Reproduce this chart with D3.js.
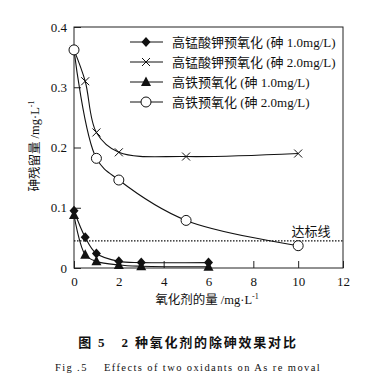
<!DOCTYPE html>
<html><head><meta charset="utf-8">
<script src="https://cdn.jsdelivr.net/npm/d3@7"></script>
<style>
body{margin:0;background:#fff;}
text{font-family:"Liberation Serif","Noto Sans CJK SC",serif;fill:#111;white-space:pre;}
</style></head>
<body><svg id="c" width="366" height="384"></svg>
<script>
const seriesNames = ["高锰酸钾预氧化 (砷 1.0mg/L)","高锰酸钾预氧化 (砷 2.0mg/L)","高铁预氧化 (砷 1.0mg/L)","高铁预氧化 (砷 2.0mg/L)"];
const kmn1X = [0,0.5,1,2,3,6];
const kmn1Y = [0.095,0.051,0.024,0.011,0.009,0.009];
const kmn2X = [0,0.5,1,2,5,10];
const kmn2Y = [0.362,0.31,0.225,0.192,0.185,0.19];
const fe1X = [0,0.5,1,2,3,6];
const fe1Y = [0.088,0.022,0.011,0.005,0.003,0.002];
const fe2X = [0,1,2,5,10];
const fe2Y = [0.362,0.182,0.146,0.079,0.037];
const standard = 0.045;
const xTicks = [0,2,4,6,8,10,12];
const yTicks = [0,0.1,0.2,0.3,0.4];

const svg = d3.select("#c");
const L=74,R=343,T=27,B=268;
const x = d3.scaleLinear().domain([0,12]).range([L,R]);
const y = d3.scaleLinear().domain([0,0.4]).range([B,T]);

// frame
svg.append("rect").attr("x",L).attr("y",T).attr("width",R-L).attr("height",B-T)
  .attr("fill","none").attr("stroke","#222").attr("stroke-width",1);

const ax = svg.append("g").attr("transform",`translate(0,${B})`)
  .call(d3.axisBottom(x).tickValues(xTicks).tickFormat(d3.format("d")).tickSize(-7).tickPadding(9));
const ay = svg.append("g").attr("transform",`translate(${L},0)`)
  .call(d3.axisLeft(y).tickValues(yTicks).tickFormat(d=>d===0?"0":d3.format(".1f")(d)).tickSize(-7).tickPadding(7));
[ax,ay].forEach(g=>{g.select(".domain").remove();
  g.selectAll("line").attr("stroke","#222");
  g.selectAll("text").attr("font-size",13).attr("font-family","Liberation Serif").attr("fill","#111");});

// standard line
svg.append("line").attr("x1",L).attr("x2",R).attr("y1",y(standard)).attr("y2",y(standard))
  .attr("stroke","#111").attr("stroke-width",1.2).attr("stroke-dasharray","1.5,1.5");
svg.append("text").attr("x",311).attr("y",y(standard)-5).attr("text-anchor","middle")
  .attr("font-size",13).text("达标线");

const line = d3.line().x(d=>x(d[0])).y(d=>y(d[1])).curve(d3.curveCatmullRom.alpha(0.5));
const data = [
  {xs:kmn1X, ys:kmn1Y, m:"diamond"},
  {xs:kmn2X, ys:kmn2Y, m:"cross"},
  {xs:fe1X, ys:fe1Y, m:"triangle"},
  {xs:fe2X, ys:fe2Y, m:"circle"}
];
function marker(g,type,cx,cy){
  if(type==="diamond") g.append("path").attr("d",`M${cx},${cy-5}L${cx+4.5},${cy}L${cx},${cy+5}L${cx-4.5},${cy}Z`).attr("fill","#111");
  else if(type==="cross") g.append("path").attr("d",`M${cx-4},${cy-4}L${cx+4},${cy+4}M${cx-4},${cy+4}L${cx+4},${cy-4}`).attr("stroke","#111").attr("stroke-width",1).attr("fill","none");
  else if(type==="triangle") g.append("path").attr("d",`M${cx},${cy-5.5}L${cx+5},${cy+4}L${cx-5},${cy+4}Z`).attr("fill","#111");
  else g.append("circle").attr("cx",cx).attr("cy",cy).attr("r",5).attr("fill","#fff").attr("stroke","#111").attr("stroke-width",1);
}
data.forEach(s=>{
  const pts = s.xs.map((v,i)=>[v,s.ys[i]]);
  svg.append("path").datum(pts).attr("d",line).attr("fill","none").attr("stroke","#111").attr("stroke-width",1.1);
});
data.forEach(s=>{
  const g = svg.append("g");
  s.xs.forEach((v,i)=>marker(g,s.m,x(v),y(s.ys[i])));
});

// legend
const legY=[42,62,82,102];
data.forEach((s,i)=>{
  const g = svg.append("g");
  g.append("line").attr("x1",130).attr("x2",163).attr("y1",legY[i]).attr("y2",legY[i]).attr("stroke","#111").attr("stroke-width",1);
  marker(g,s.m,146,legY[i]);
  g.append("text").attr("x",172).attr("y",legY[i]+4.5).attr("font-size",13).text(seriesNames[i]);
});

// axis titles
svg.append("text").attr("x",207).attr("y",304).attr("text-anchor","middle").attr("font-size",12.5)
  .html('氧化剂的量 /mg·L<tspan dy="-5" font-size="8">-1</tspan>');
svg.append("text").attr("transform","translate(39,146) rotate(-90)").attr("text-anchor","middle").attr("font-size",12.5)
  .html('砷残留量 /mg·L<tspan dy="-5" font-size="8">-1</tspan>');

// captions
svg.append("text").attr("x",188).attr("y",347).attr("text-anchor","middle").attr("font-size",13)
  .attr("font-weight","bold").attr("letter-spacing","1.8").attr("font-family","Noto Sans CJK SC")
  .text("图 5   2 种氧化剂的除砷效果对比");
svg.append("text").attr("x",188).attr("y",371).attr("text-anchor","middle").attr("font-size",10.5)
  .attr("letter-spacing","1.4")
  .text("Fig .5    Effects of two oxidants on As re moval");
</script></body></html>
